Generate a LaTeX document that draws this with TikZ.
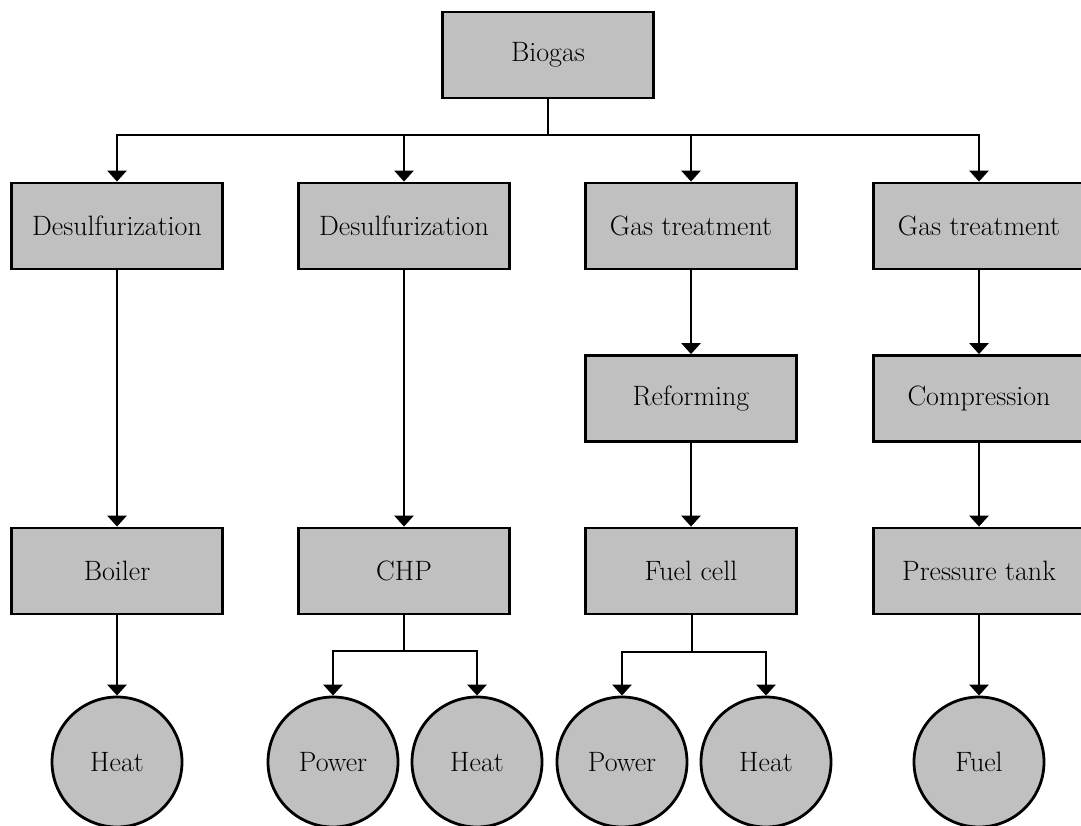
\documentclass[tikz,border=0pt]{standalone}
\usetikzlibrary{arrows.meta}
\definecolor{boxgray}{HTML}{C0C0C0}
\tikzset{
  box/.style={draw=black, fill=boxgray, line width=2.8pt, rectangle, minimum width=211pt, minimum height=86pt, inner sep=0pt, font=\fontsize{28}{32}\selectfont},
  outc/.style={draw=black, fill=boxgray, line width=2.8pt, circle, minimum size=130pt, inner sep=0pt, font=\fontsize{28}{32}\selectfont},
  conn/.style={line width=2.8pt, draw=black},
  arr/.style={conn, -{Triangle[width=19pt,length=11pt]}}
}
\begin{document}
\begin{tikzpicture}[x=1pt,y=-1pt]
\useasboundingbox (0,0) rectangle (1081,826);
% top
\node[box] (bio) at (548,55) {Biogas};
% row 1
\node[box] (d1) at (117,226) {Desulfurization};
\node[box] (d2) at (404,226) {Desulfurization};
\node[box] (g1) at (691,226) {Gas treatment};
\node[box] (g2) at (979,226) {Gas treatment};
% row 2
\node[box] (ref) at (691,398.5) {Reforming};
\node[box] (comp) at (979,398.5) {Compression};
% row 3
\node[box] (boil) at (117,571) {Boiler};
\node[box] (chp) at (404,571) {CHP};
\node[box] (fc) at (691,571) {Fuel cell};
\node[box] (pt) at (979,571) {Pressure tank};
% outputs
\node[outc] (h1) at (117,762) {Heat};
\node[outc] (p2) at (333,762) {Power};
\node[outc] (h2) at (477,762) {Heat};
\node[outc] (p3) at (622,762) {Power};
\node[outc] (h3) at (766,762) {Heat};
\node[outc] (fu) at (979,762) {Fuel};
% branch points
\coordinate (bb) at (548,135);
\coordinate (cb) at (404,651);
\coordinate (fb) at (692,652);
% connectors
\draw[conn] (bio.south) -- (bb);
\draw[arr] (bb) -| (d1.north);
\draw[arr] (bb) -| (d2.north);
\draw[arr] (bb) -| (g1.north);
\draw[arr] (bb) -| (g2.north);
\draw[arr] (d1.south) -- (boil.north);
\draw[arr] (d2.south) -- (chp.north);
\draw[arr] (g1.south) -- (ref.north);
\draw[arr] (ref.south) -- (fc.north);
\draw[arr] (g2.south) -- (comp.north);
\draw[arr] (comp.south) -- (pt.north);
\draw[arr] (boil.south) -- (h1.north);
\draw[conn] (chp.south) -- (cb);
\draw[arr] (cb) -| (p2.north);
\draw[arr] (cb) -| (h2.north);
\draw[conn] (fc.south -| fb) -- (fb);
\draw[arr] (fb) -| (p3.north);
\draw[arr] (fb) -| (h3.north);
\draw[arr] (pt.south) -- (fu.north);
\end{tikzpicture}
\end{document}
